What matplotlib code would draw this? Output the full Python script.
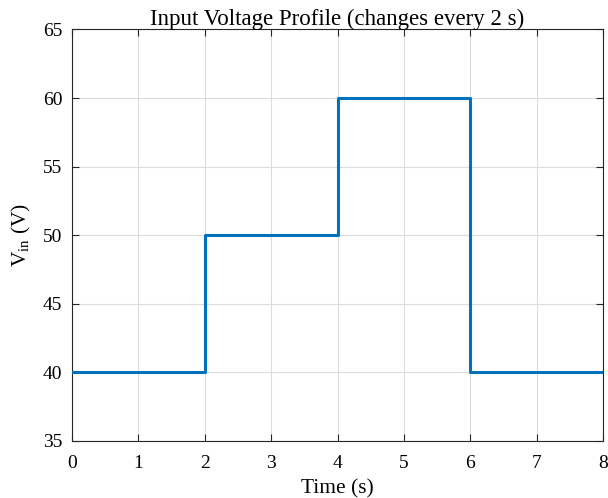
import matplotlib
matplotlib.use("Agg")
import matplotlib.pyplot as plt

plt.rcParams['font.family'] = ['Liberation Serif', 'DejaVu Serif']
plt.rcParams['mathtext.fontset'] = 'custom'
plt.rcParams['mathtext.rm'] = 'Liberation Serif'
plt.rcParams['mathtext.it'] = 'Liberation Serif:italic'

# Input voltage steps (value held from each time until the next)
step_times = [0, 2, 4, 6, 8]
voltages = [40, 50, 60, 40, 40]
x_ticks = [0, 1, 2, 3, 4, 5, 6, 7, 8]
y_ticks = [35, 40, 45, 50, 55, 60, 65]

axis_col = '#262626'
fig = plt.figure(figsize=(6.08, 4.98), dpi=100)
ax = fig.add_axes([0.1184, 0.1145, 0.8734, 0.8263])

ax.step(step_times, voltages, where='post', color='#0072BD', lw=2.2, zorder=3)

ax.set_xlim(0, 8)
ax.set_ylim(35, 65)
ax.set_xticks(x_ticks)
ax.set_yticks(y_ticks)
ax.grid(True, color='#dcdcdc', lw=0.8)
ax.set_axisbelow(True)

for s in ax.spines.values():
    s.set_color(axis_col)
    s.set_linewidth(0.8)
ax.tick_params(direction='in', length=5, width=0.8, colors=axis_col,
               labelsize=14, top=True, right=True, labelcolor='black')
ax.tick_params(axis='x', pad=10)
ax.tick_params(axis='y', pad=7)

ax.set_title('Input Voltage Profile (changes every 2 s)', fontsize=16.5, pad=3)
ax.set_xlabel('Time (s)', fontsize=15.4, labelpad=5)
ax.set_ylabel(r'V$_{\mathrm{in}}$ (V)', fontsize=15.4, labelpad=7)

fig.savefig('out.png', dpi=100, facecolor='white')
